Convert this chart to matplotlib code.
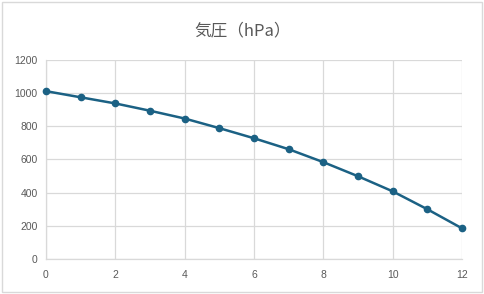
import matplotlib
matplotlib.use("Agg")
import matplotlib.pyplot as plt
from matplotlib.patches import Rectangle

plt.rcParams['font.family'] = ['Noto Sans CJK JP', 'DejaVu Sans']

title = "気圧（hPa）"
x_values = [0, 1, 2, 3, 4, 5, 6, 7, 8, 9, 10, 11, 12]
pressure = [1012, 975, 938, 894, 847, 789, 728, 662, 584, 499, 408, 300, 185]
x_ticks = [0, 2, 4, 6, 8, 10, 12]
y_ticks = [0, 200, 400, 600, 800, 1000, 1200]

fig = plt.figure(figsize=(4.85, 2.94), dpi=100)
fig.patch.set_facecolor("white")
fig.patches.append(Rectangle((0.004, 0.006), 0.99, 0.988, transform=fig.transFigure,
                             fill=False, edgecolor="#d9d9d9", linewidth=1))

ax = fig.add_axes([0.0948, 0.119, 0.8578, 0.677])
color = "#1b6184"
ax.plot(x_values, pressure, color=color, linewidth=1.8, marker="o", markersize=4.5,
        markerfacecolor=color, markeredgecolor=color, zorder=3, clip_on=False)
ax.set_xlim(0, 12)
ax.set_ylim(0, 1200)
ax.set_xticks(x_ticks)
ax.set_yticks(y_ticks)
ax.grid(True, color="#d9d9d9", linewidth=0.9)
ax.set_axisbelow(True)
for s in ["top", "right"]:
    ax.spines[s].set_visible(False)
for s in ["left", "bottom"]:
    ax.spines[s].set_color("#d9d9d9")
    ax.spines[s].set_linewidth(0.9)
ax.tick_params(length=0, labelsize=7.5, labelcolor="#595959", pad=6)
ax.tick_params(axis="x", pad=8)
for lbl in ax.get_xticklabels() + ax.get_yticklabels():
    lbl.set_family(['Liberation Sans', 'DejaVu Sans'])
fig.text(0.5, 0.895, title, ha="center", va="center", fontsize=12, color="#595959")

fig.savefig("out.png", dpi=100)
